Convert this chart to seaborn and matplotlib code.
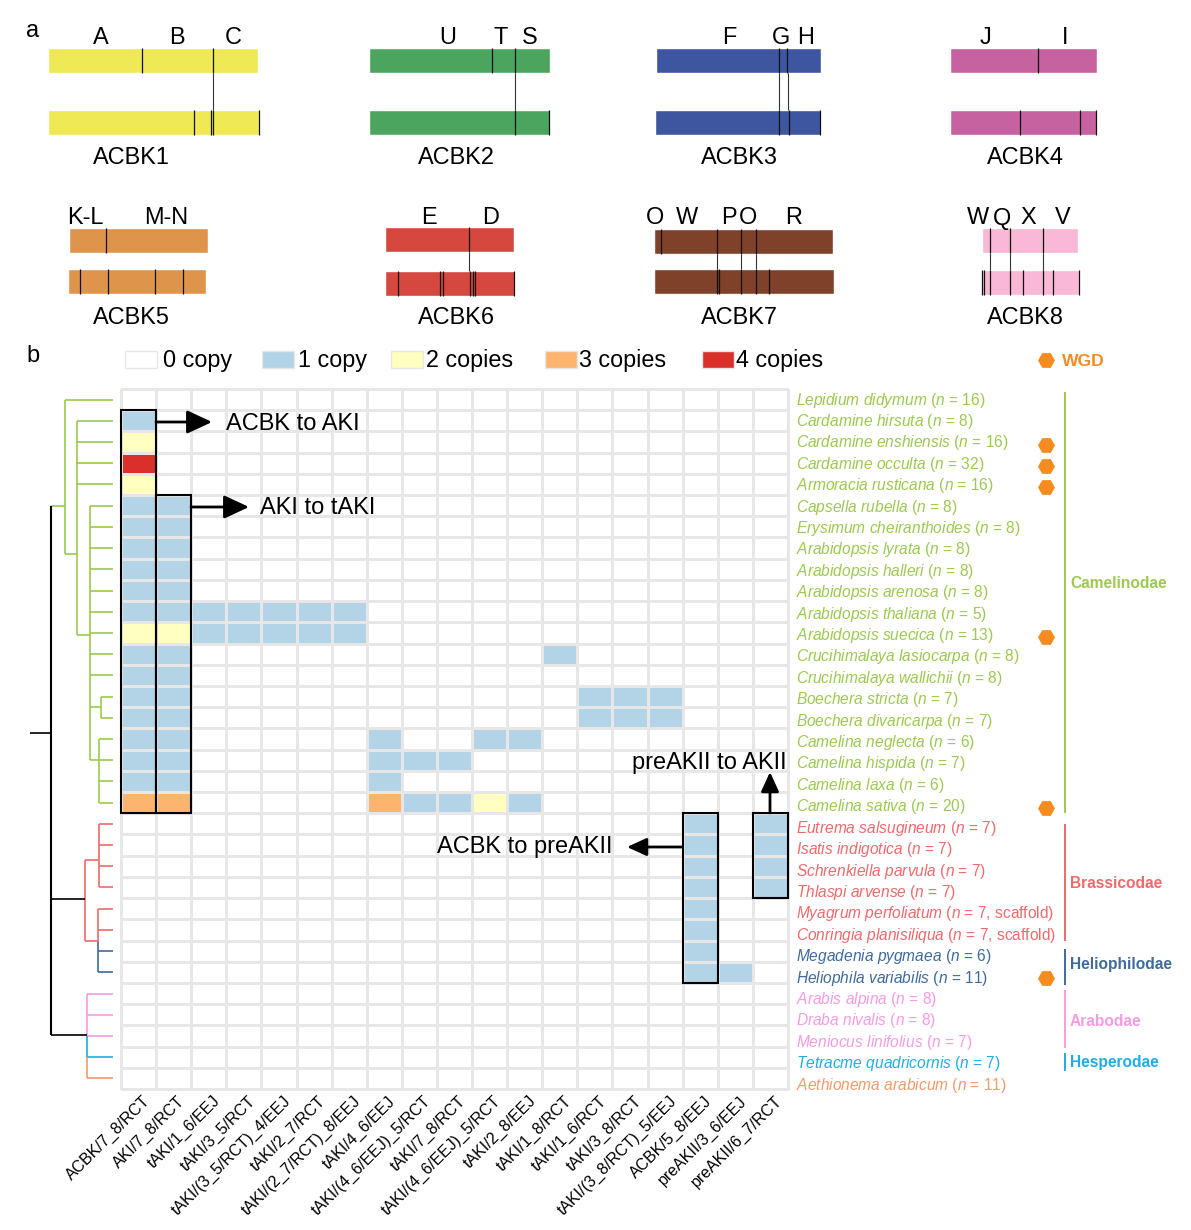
import numpy as np
import pandas as pd
import seaborn as sns
import matplotlib.pyplot as plt
from matplotlib.colors import ListedColormap
from matplotlib.patches import Rectangle
from matplotlib.transforms import ScaledTranslation

sns.set_theme(style="white")
plt.rcParams["font.family"] = ["Liberation Sans", "DejaVu Sans"]
plt.rcParams["mathtext.fontset"] = "custom"
plt.rcParams["mathtext.it"] = "Liberation Sans:italic"
plt.rcParams["mathtext.rm"] = "Liberation Sans"

W, H = 1191, 1230

# panel a: chromosomes, lengths and breaks
acbk_names = ["ACBK1", "ACBK2", "ACBK3", "ACBK4", "ACBK5", "ACBK6", "ACBK7", "ACBK8"]
acbk_colors = ["#EEE955", "#4CA55F", "#3E56A0", "#C5629F", "#DF944C", "#D6473F", "#80412A", "#F9B8D5"]
top_len = [210, 181, 165, 147, 139, 129.5, 179, 96.5]
bot_len = [211, 181, 166, 147, 138, 130, 180, 97]
top_breaks = [[94, 165], [123, 146], [123, 131], [88], [37], [84], [7, 63, 87, 102], [8, 28, 61]]
bot_breaks = [[146, 163, 165, 211], [146, 180], [124, 134, 165], [70, 130.5, 146],
              [12, 40, 87, 115.5], [13, 55.6, 58.7, 85, 88.6, 90, 129],
              [63, 65, 87, 102, 115], [0.6, 2, 8, 28, 41, 61, 71, 97]]
links = [[165], [146], [123.5, 132], [], [], [84.5], [63, 87, 102], [8, 28, 61]]
block_labels = [["A", "B", "C"], ["U", "T", "S"], ["F", "G", "H"], ["J", "I"],
                ["K-L", "M-N"], ["E", "D"], ["O", "W", "P", "O", "R"], ["W", "Q", "X", "V"]]

# panel b: species, chromosome number, copy table
species = ["Lepidium didymum", "Cardamine hirsuta", "Cardamine enshiensis", "Cardamine occulta",
           "Armoracia rusticana", "Capsella rubella", "Erysimum cheiranthoides", "Arabidopsis lyrata",
           "Arabidopsis halleri", "Arabidopsis arenosa", "Arabidopsis thaliana", "Arabidopsis suecica",
           "Crucihimalaya lasiocarpa", "Crucihimalaya wallichii", "Boechera stricta", "Boechera divaricarpa",
           "Camelina neglecta", "Camelina hispida", "Camelina laxa", "Camelina sativa",
           "Eutrema salsugineum", "Isatis indigotica", "Schrenkiella parvula", "Thlaspi arvense",
           "Myagrum perfoliatum", "Conringia planisiliqua", "Megadenia pygmaea", "Heliophila variabilis",
           "Arabis alpina", "Draba nivalis", "Meniocus linifolius", "Tetracme quadricornis", "Aethionema arabicum"]
chrom_n = ["16", "8", "16", "32", "16", "8", "8", "8", "8", "8", "5", "13", "8", "8", "7", "7", "6", "7", "6", "20",
           "7", "7", "7", "7", "7, scaffold", "7, scaffold", "6", "11", "8", "8", "7", "7", "11"]
groups = ["Camelinodae"] * 20 + ["Brassicodae"] * 6 + ["Heliophilodae"] * 2 + ["Arabodae"] * 3 + ["Hesperodae", "Aethionema"]
wgd_species = ["Cardamine enshiensis", "Cardamine occulta", "Armoracia rusticana", "Arabidopsis suecica",
               "Camelina sativa", "Heliophila variabilis"]
events = ["ACBK/7_8/RCT", "AKI/7_8/RCT", "tAKI/1_6/EEJ", "tAKI/3_5/RCT", "tAKI/(3_5/RCT)_4/EEJ", "tAKI/2_7/RCT",
          "tAKI/(2_7/RCT)_8/EEJ", "tAKI/4_6/EEJ", "tAKI/(4_6/EEJ)_5/RCT", "tAKI/7_8/RCT", "tAKI/(4_6/EEJ)_5/RCT",
          "tAKI/2_8/EEJ", "tAKI/1_8/RCT", "tAKI/1_6/RCT", "tAKI/3_8/RCT", "tAKI/(3_8/RCT)_5/EEJ", "ACBK/5_8/EEJ",
          "preAKII/3_6/EEJ", "preAKII/6_7/RCT"]
copies = [
    [0, 0, 0, 0, 0, 0, 0, 0, 0, 0, 0, 0, 0, 0, 0, 0, 0, 0, 0],
    [1, 0, 0, 0, 0, 0, 0, 0, 0, 0, 0, 0, 0, 0, 0, 0, 0, 0, 0],
    [2, 0, 0, 0, 0, 0, 0, 0, 0, 0, 0, 0, 0, 0, 0, 0, 0, 0, 0],
    [4, 0, 0, 0, 0, 0, 0, 0, 0, 0, 0, 0, 0, 0, 0, 0, 0, 0, 0],
    [2, 0, 0, 0, 0, 0, 0, 0, 0, 0, 0, 0, 0, 0, 0, 0, 0, 0, 0],
    [1, 1, 0, 0, 0, 0, 0, 0, 0, 0, 0, 0, 0, 0, 0, 0, 0, 0, 0],
    [1, 1, 0, 0, 0, 0, 0, 0, 0, 0, 0, 0, 0, 0, 0, 0, 0, 0, 0],
    [1, 1, 0, 0, 0, 0, 0, 0, 0, 0, 0, 0, 0, 0, 0, 0, 0, 0, 0],
    [1, 1, 0, 0, 0, 0, 0, 0, 0, 0, 0, 0, 0, 0, 0, 0, 0, 0, 0],
    [1, 1, 0, 0, 0, 0, 0, 0, 0, 0, 0, 0, 0, 0, 0, 0, 0, 0, 0],
    [1, 1, 1, 1, 1, 1, 1, 0, 0, 0, 0, 0, 0, 0, 0, 0, 0, 0, 0],
    [2, 2, 1, 1, 1, 1, 1, 0, 0, 0, 0, 0, 0, 0, 0, 0, 0, 0, 0],
    [1, 1, 0, 0, 0, 0, 0, 0, 0, 0, 0, 0, 1, 0, 0, 0, 0, 0, 0],
    [1, 1, 0, 0, 0, 0, 0, 0, 0, 0, 0, 0, 0, 0, 0, 0, 0, 0, 0],
    [1, 1, 0, 0, 0, 0, 0, 0, 0, 0, 0, 0, 0, 1, 1, 1, 0, 0, 0],
    [1, 1, 0, 0, 0, 0, 0, 0, 0, 0, 0, 0, 0, 1, 1, 1, 0, 0, 0],
    [1, 1, 0, 0, 0, 0, 0, 1, 0, 0, 1, 1, 0, 0, 0, 0, 0, 0, 0],
    [1, 1, 0, 0, 0, 0, 0, 1, 1, 1, 0, 0, 0, 0, 0, 0, 0, 0, 0],
    [1, 1, 0, 0, 0, 0, 0, 1, 0, 0, 0, 0, 0, 0, 0, 0, 0, 0, 0],
    [3, 3, 0, 0, 0, 0, 0, 3, 1, 1, 2, 1, 0, 0, 0, 0, 0, 0, 0],
    [0, 0, 0, 0, 0, 0, 0, 0, 0, 0, 0, 0, 0, 0, 0, 0, 1, 0, 1],
    [0, 0, 0, 0, 0, 0, 0, 0, 0, 0, 0, 0, 0, 0, 0, 0, 1, 0, 1],
    [0, 0, 0, 0, 0, 0, 0, 0, 0, 0, 0, 0, 0, 0, 0, 0, 1, 0, 1],
    [0, 0, 0, 0, 0, 0, 0, 0, 0, 0, 0, 0, 0, 0, 0, 0, 1, 0, 1],
    [0, 0, 0, 0, 0, 0, 0, 0, 0, 0, 0, 0, 0, 0, 0, 0, 1, 0, 0],
    [0, 0, 0, 0, 0, 0, 0, 0, 0, 0, 0, 0, 0, 0, 0, 0, 1, 0, 0],
    [0, 0, 0, 0, 0, 0, 0, 0, 0, 0, 0, 0, 0, 0, 0, 0, 1, 0, 0],
    [0, 0, 0, 0, 0, 0, 0, 0, 0, 0, 0, 0, 0, 0, 0, 0, 1, 1, 0],
    [0, 0, 0, 0, 0, 0, 0, 0, 0, 0, 0, 0, 0, 0, 0, 0, 0, 0, 0],
    [0, 0, 0, 0, 0, 0, 0, 0, 0, 0, 0, 0, 0, 0, 0, 0, 0, 0, 0],
    [0, 0, 0, 0, 0, 0, 0, 0, 0, 0, 0, 0, 0, 0, 0, 0, 0, 0, 0],
    [0, 0, 0, 0, 0, 0, 0, 0, 0, 0, 0, 0, 0, 0, 0, 0, 0, 0, 0],
    [0, 0, 0, 0, 0, 0, 0, 0, 0, 0, 0, 0, 0, 0, 0, 0, 0, 0, 0],
]
copy_labels = ["0 copy", "1 copy", "2 copies", "3 copies", "4 copies"]
copy_colors = ["#FFFFFF", "#B3D3E7", "#FFFFBF", "#FDB46F", "#D9302A"]

group_colors = {"Camelinodae": "#9CC94F", "Brassicodae": "#EE6A6C", "Heliophilodae": "#3F6A9E",
                "Arabodae": "#F79BE3", "Hesperodae": "#1FAEE3", "Aethionema": "#F29A6B"}

# dendrogram: where each leaf starts, then inner nodes (depth, first row, last row, colour)
leaf_start = [65, 77, 77, 77, 77, 90, 90, 90, 90, 90, 90, 90, 90, 90, 101, 101, 99, 99, 99, 99,
              99, 99, 99, 99, 98, 98, 98, 98, 87, 87, 87, 87, 87]
tree_nodes = [(65, 0.5, 7.8, "Camelinodae"), (77, 1.5, 11.6, "Camelinodae"), (90, 5.5, 17.5, "Camelinodae"),
              (101, 14.5, 15.5, "Camelinodae"), (99, 16.5, 19.5, "Camelinodae"),
              (85, 22.2, 26.0, "Brassicodae"), (99, 20.5, 23.5, "Brassicodae"), (98, 24.5, 26.0, "Brassicodae"),
              (98, 26.0, 27.5, "Heliophilodae"), (87, 28.5, 30.5, "Arabodae"),
              (87, 30.5, 31.5, "Hesperodae"), (87, 31.5, 32.5, "Aethionema")]
tree_links = [(65, 77, 7.8, "Camelinodae"), (77, 90, 11.6, "Camelinodae"), (90, 101, 15.0, "Camelinodae"),
              (90, 99, 17.5, "Camelinodae"), (85, 99, 22.2, "Brassicodae"), (85, 98, 26.0, "Brassicodae"),
              (51, 65, 5.5, "Camelinodae")]
root_links = [(30, 51, 16.2), (51, 85, 24.05), (51, 87, 30.45)]

# figure layout, in reference pixels
GRID_L, GRID_R, GRID_T, GRID_B = 121, 788, 389, 1089
top_start = [47.5, 368.5, 655.5, 949.5, 68.5, 384.5, 653.5, 981.5]
bot_start = [47.5, 368.5, 654.5, 949.5, 67.5, 384.5, 653.5, 981.5]
top_y = [47.5, 47.5, 47.5, 47.5, 227.5, 226.5, 228.5, 227.5]
bot_y = [109.5, 109.5, 109.5, 109.5, 268.5, 270.5, 268.5, 269.5]
bar_h = 25.5
name_x = [131.5, 456.5, 739.5, 1025.5, 131.5, 456.5, 739.5, 1025.5]
name_y = [158, 158, 158, 158, 317, 317, 317, 317]
letter_y = [38, 38, 38, 38, 218, 218, 218, 218]
letter_x = [[101, 177, 233], [448, 501, 530], [729, 781, 806], [985, 1065],
            [85, 166], [429, 491], [655, 687, 729, 748, 794], [978, 1002, 1028, 1063]]
legend_x = [125, 262, 391, 545, 702]
legend_text_x = [163, 298, 426, 579, 736]
group_bars = {"Camelinodae": (392, 813, 584), "Brassicodae": (824, 941, 883), "Heliophilodae": (949, 985, 965),
              "Arabodae": (990, 1048, 1022), "Hesperodae": (1053, 1071, 1063)}

fig = plt.figure(figsize=(W / 100, H / 100), dpi=100)

# heatmap
ax = fig.add_axes([GRID_L / W, 1 - GRID_B / H, (GRID_R - GRID_L) / W, (GRID_B - GRID_T) / H])
table = pd.DataFrame(copies, index=species, columns=events)
sns.heatmap(table, ax=ax, cmap=ListedColormap(copy_colors), vmin=-0.5, vmax=4.5, cbar=False,
            linewidths=1.0, linecolor="#E8E6E6", clip_on=False, yticklabels=False)
ax.set_xlabel("")
ax.set_ylabel("")
ax.tick_params(length=0)
ax.set_xticklabels(events, rotation=45, ha="right", va="center", rotation_mode="anchor", fontsize=11.5, color="black")
ax.tick_params(axis="x", pad=7)
nudge = ScaledTranslation(9 / 100, 0, fig.dpi_scale_trans)
for lab in ax.get_xticklabels():
    lab.set_transform(lab.get_transform() + nudge)

# black boxes around the retained events
for col, first, last in [(0, 1, 20), (1, 5, 20), (16, 20, 28), (18, 20, 24)]:
    ax.add_patch(Rectangle((col, first), 1, last - first, fill=False, ec="black", lw=1.5, clip_on=False, zorder=5))

# dendrogram
tree = fig.add_axes([0, 1 - GRID_B / H, GRID_L / W, (GRID_B - GRID_T) / H])
tree.set_xlim(0, GRID_L)
tree.set_ylim(len(species), 0)
tree.axis("off")
for row, (start, g) in enumerate(zip(leaf_start, groups)):
    tree.hlines(row + 0.5, start, 113, color=group_colors[g], lw=1.2)
for depth, r0, r1, g in tree_nodes:
    tree.vlines(depth, r0, r1, color=group_colors[g], lw=1.2)
for x0, x1, row, g in tree_links:
    tree.hlines(row, x0, x1, color=group_colors[g], lw=1.2)
tree.vlines(51, 5.5, 30.45, color="black", lw=1.5)
for x0, x1, row in root_links:
    tree.hlines(row, x0, x1, color="black", lw=1.2)

# everything else on a full figure overlay in pixel units
over = fig.add_axes([0, 0, 1, 1], zorder=10)
over.set_xlim(0, W)
over.set_ylim(H, 0)
over.axis("off")

for i, name in enumerate(acbk_names):
    over.barh(top_y[i], top_len[i], left=top_start[i], height=bar_h, align="edge", color=acbk_colors[i])
    over.barh(bot_y[i], bot_len[i], left=bot_start[i], height=bar_h, align="edge", color=acbk_colors[i])
    over.vlines([top_start[i] + b for b in top_breaks[i]], top_y[i], top_y[i] + bar_h, color="#111111", lw=0.9)
    over.vlines([bot_start[i] + b for b in bot_breaks[i]], bot_y[i], bot_y[i] + bar_h, color="#111111", lw=0.9)
    over.vlines([top_start[i] + b for b in links[i]], top_y[i] + bar_h, bot_y[i], color="#333333", lw=0.8)
    over.text(name_x[i], name_y[i], name, ha="center", va="center", fontsize=16.9, color="black")
    for lx, letter in zip(letter_x[i], block_labels[i]):
        over.text(lx, letter_y[i], letter, ha="center", va="center", fontsize=16.9, color="black")

over.text(33, 31, "a", ha="center", va="center", fontsize=17, color="black")
over.text(33, 356, "b", ha="center", va="center", fontsize=17, color="black")

# legend row
for lx, tx, lab, c in zip(legend_x, legend_text_x, copy_labels, copy_colors):
    over.add_patch(Rectangle((lx, 351), 32, 17, fc=c, ec="#E8E6E6", lw=1.0))
    over.text(tx, 360, lab, ha="left", va="center", fontsize=16.8, color="black")

# species names follow their own spacing, a little wider than the rows
for row, (s, n, g) in enumerate(zip(species, chrom_n, groups)):
    label = rf"$\mathit{{{s.replace(' ', chr(92) + ' ')}}}$ ($\mathit{{n}}$ = {n})"
    over.text(796, 400 + row * 21.41, label, ha="left", va="center", fontsize=11.2, color=group_colors[g])

# WGD markers
wgd_rows = [species.index(s) for s in wgd_species]
over.scatter([1046] * len(wgd_rows), [402 + r * 21.35 for r in wgd_rows], marker="H", s=150, color="#F68B1F", lw=0)
over.scatter([1046], [360], marker="H", s=150, color="#F68B1F", lw=0)
over.text(1062, 362, "WGD", ha="left", va="center", fontsize=12.6, fontweight="bold", color="#F68B1F")

# clade bars
for g, (y0, y1, ty) in group_bars.items():
    over.vlines(1065, y0, y1, color=group_colors[g], lw=1.4)
    over.text(1070, ty, g, ha="left", va="center", fontsize=11.2, fontweight="bold", color=group_colors[g])

# transition arrows
big_head = dict(arrowstyle="-|>,head_length=0.9,head_width=0.42", color="black", lw=2, shrinkA=0, shrinkB=0, mutation_scale=17)
small_head = dict(arrowstyle="-|>,head_length=0.7,head_width=0.32", color="black", lw=2, shrinkA=0, shrinkB=0, mutation_scale=17)
for start, end, style in [((156, 422), (212, 422), big_head), ((191, 507), (249, 507), big_head),
                          ((770, 813), (770, 772), small_head), ((682, 847), (627, 847), small_head)]:
    over.annotate("", xy=end, xytext=start, arrowprops=style)
for tx, ty, lab in [(226, 423.5, "ACBK to AKI"), (260, 508.5, "AKI to tAKI"),
                    (632, 763.5, "preAKII to AKII"), (437, 847.5, "ACBK to preAKII")]:
    over.text(tx, ty, lab, ha="left", va="center", fontsize=17, color="black")

fig.savefig("out.png", dpi=100, facecolor="white")
